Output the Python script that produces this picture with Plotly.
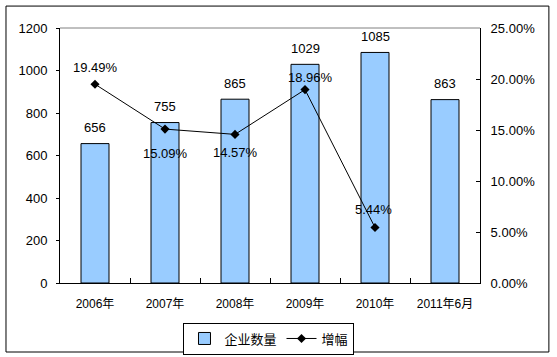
import plotly.graph_objects as go

categories = ["2006年", "2007年", "2008年", "2009年", "2010年", "2011年6月"]
counts = [656, 755, 865, 1029, 1085, 863]
growth = [0.1949, 0.1509, 0.1457, 0.1896, 0.0544, None]
growth_labels = ["19.49%", "15.09%", "14.57%", "18.96%", "5.44%", ""]
label_shift = [17, -24, -18, 12, 18, 0]
label_xshift = [0, 0, 0, 5, -2, 0]

FONT = "Liberation Sans, Arial, Noto Sans CJK SC, sans-serif"

fig = go.Figure()
fig.add_trace(go.Bar(
    x=categories, y=counts, name="企业数量",
    marker=dict(color="#99CCFF", line=dict(color="black", width=1)),
    width=0.4,
))
fig.add_trace(go.Scatter(
    x=categories, y=growth, name="增幅", yaxis="y2",
    mode="lines+markers",
    line=dict(color="black", width=1),
    marker=dict(symbol="diamond", size=7, color="black"),
))

annotations = []
for c, v in zip(categories, counts):
    annotations.append(dict(x=c, y=v, xref="x", yref="y", text=str(v), showarrow=False,
                            yshift=16, font=dict(size=13, color="black", family=FONT)))
for c, g, t, s, xs in zip(categories, growth, growth_labels, label_shift, label_xshift):
    if g is None:
        continue
    annotations.append(dict(x=c, y=g, yref="y2", xref="x", text=t, showarrow=False,
                            yshift=s, xshift=xs, font=dict(size=13, color="black", family=FONT)))

fig.update_layout(
    width=557, height=357,
    margin=dict(l=60, r=77, t=28, b=74, autoexpand=False),
    paper_bgcolor="white", plot_bgcolor="white",
    font=dict(family=FONT, size=13, color="black"),
    bargap=0.6,
    showlegend=True,
    legend=dict(orientation="h", x=0.4976, xanchor="center", y=-0.155, yanchor="top",
                bordercolor="black", borderwidth=1, font=dict(size=13, family=FONT),
                itemwidth=30, tracegroupgap=0),
    xaxis=dict(type="category", showline=True, linecolor="black", linewidth=1,
               ticks="inside", tickson="boundaries", ticklen=5, tickcolor="black",
               showgrid=False, tickangle=0, ticklabelstandoff=10,
               tickfont=dict(size=12, family=FONT)),
    yaxis=dict(range=[0, 1200], dtick=200, showline=True, linecolor="black", linewidth=1,
               ticks="outside", ticklen=3, tickcolor="black", showgrid=False, zeroline=False,
               ticklabelstandoff=6, tickfont=dict(size=13, family=FONT)),
    yaxis2=dict(range=[0, 0.25], dtick=0.05, tickformat=".2%", overlaying="y", side="right",
                showline=True, linecolor="black", linewidth=1, ticks="inside", ticklen=4,
                tickcolor="black", showgrid=False, zeroline=False,
                ticklabelstandoff=7, tickfont=dict(size=13, family=FONT)),
    annotations=annotations,
    shapes=[
        dict(type="line", xref="paper", yref="paper", x0=0, x1=1, y0=1, y1=1,
             line=dict(color="#808080", width=1)),
        dict(type="rect", xref="paper", yref="paper", x0=-0.1286, x1=1.164, y0=-0.2706, y1=1.086,
             line=dict(color="black", width=1)),
    ],
)

fig.write_html("out.html", config={"displayModeBar": False},
               post_script="document.body.style.margin='0';")
